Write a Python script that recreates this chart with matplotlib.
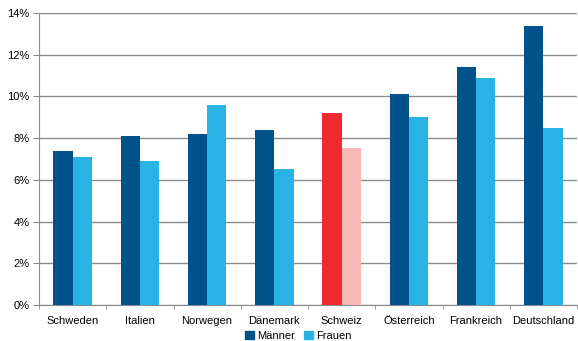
import numpy as np
import matplotlib.pyplot as plt
from matplotlib.ticker import FuncFormatter, MultipleLocator
from matplotlib.patches import Patch

plt.rcParams['font.family'] = ['Liberation Sans', 'DejaVu Sans']
plt.rcParams['font.size'] = 8

laender = ['Schweden', 'Italien', 'Norwegen', 'Dänemark', 'Schweiz',
           'Österreich', 'Frankreich', 'Deutschland']
maenner = [7.4, 8.1, 8.2, 8.4, 9.2, 10.1, 11.4, 13.4]
frauen = [7.1, 6.9, 9.6, 6.5, 7.55, 9.0, 10.9, 8.5]

dunkel = '#00528a'
hell = '#29b2e4'
rot = '#ee2a30'
rosa = '#f9b9b9'

# Schweiz hervorheben
c_m = [rot if l == 'Schweiz' else dunkel for l in laender]
c_f = [rosa if l == 'Schweiz' else hell for l in laender]

fig = plt.figure(figsize=(5.78, 3.41), dpi=100)
ax = fig.add_axes([39/578, 1-305/341, 538/578, 292/341])

x = np.arange(len(laender))
b = 0.286
ax.bar(x - b/2, maenner, b, color=c_m, zorder=3)
ax.bar(x + b/2, frauen, b, color=c_f, zorder=3)

ax.set_xlim(-0.5, len(laender) - 0.5)
ax.set_ylim(0, 14)
ax.yaxis.set_major_locator(MultipleLocator(2))
ax.yaxis.set_major_formatter(FuncFormatter(lambda v, p: f'{v:.0f}%'))
ax.grid(axis='y', color='#8c8c8c', linewidth=1, zorder=0)

ax.set_xticks(x)
ax.set_xticklabels(laender)
ax.set_xticks(np.arange(len(laender) + 1) - 0.5, minor=True)
ax.tick_params(axis='x', which='major', length=0, pad=8)
ax.tick_params(axis='x', which='minor', length=3, color='#8c8c8c')
ax.tick_params(axis='y', length=4, color='#8c8c8c', pad=3)

for s in ['top', 'right']:
    ax.spines[s].set_visible(False)
for s in ['left', 'bottom']:
    ax.spines[s].set_color('#8c8c8c')

handles = [Patch(color=dunkel, label='Männer'), Patch(color=hell, label='Frauen')]
fig.legend(handles=handles, loc='upper center', bbox_to_anchor=(298/578, 1-323/341),
           ncol=2, frameon=False, handlelength=0.8, handleheight=0.8,
           handletextpad=0.3, columnspacing=0.8, borderpad=0.2)

fig.savefig('out.png', dpi=100)
